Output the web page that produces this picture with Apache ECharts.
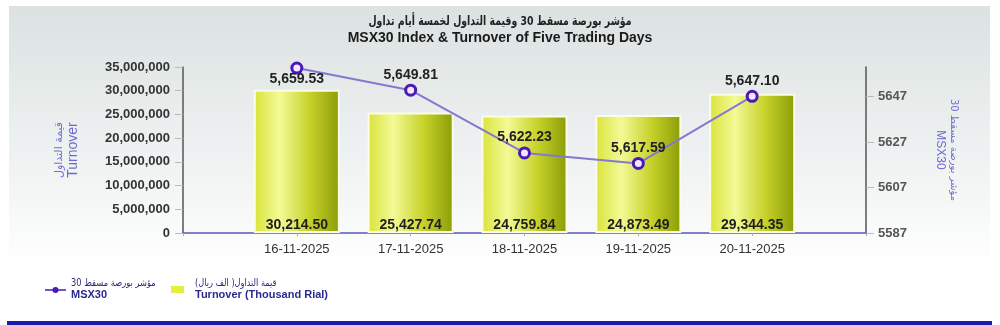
<!DOCTYPE html>
<html><head><meta charset="utf-8">
<script src="https://cdn.jsdelivr.net/npm/echarts@6/dist/echarts.min.js"></script>
<style>html,body{margin:0;padding:0;background:#fff}#c{width:1000px;height:325px}</style>
</head><body><div id="c"></div>
<script>
const dates = ['16-11-2025','17-11-2025','18-11-2025','19-11-2025','20-11-2025'];
const turnover = [30214500, 25427740, 24759840, 24873490, 29344350];
const msx30 = [5659.53, 5649.81, 5622.23, 5617.59, 5647.10];
const leftTicks = {min: 0, max: 35000000, interval: 5000000};
const rightTicks = {min: 5587, max: 5660, interval: 20};

const FONT = 'Liberation Sans, Arial, DejaVu Sans, sans-serif';
const AR = 'DejaVu Sans, sans-serif';
const cats = [''].concat(dates, ['']);
const barData = ['-'].concat(turnover, ['-']);
const lineData = ['-'].concat(msx30.map((v, i) => i === 0 ? {value: v, label: {position: 'bottom', distance: -2}} : v), ['-']);

const fmt2 = v => v.toLocaleString('en-US', {minimumFractionDigits: 2, maximumFractionDigits: 2});
const barGrad = new echarts.graphic.LinearGradient(0, 0, 1, 0, [
  {offset: 0, color: '#d9e33a'}, {offset: 0.3, color: '#f3fa96'}, {offset: 0.65, color: '#c7d22a'}, {offset: 1, color: '#8a9c08'}]);

const chart = echarts.init(document.getElementById('c'), null, {renderer: 'canvas'});
chart.setOption({
  animation: false,
  textStyle: {fontFamily: FONT},
  legend: {show: false},
  graphic: [
    {type: 'rect', z: -10, shape: {x: 9, y: 6, width: 981, height: 262},
     style: {fill: new echarts.graphic.LinearGradient(0, 0, 0, 1, [
       {offset: 0, color: '#dbe2e1'}, {offset: 0.55, color: '#eef1f1'}, {offset: 1, color: '#ffffff'}])}},
    {type: 'rect', z: -5, shape: {x: 7, y: 321, width: 985, height: 5}, style: {fill: '#1a1ab0'}},
    {type: 'text', x: 500, y: 22, scaleX: 0.72, style: {text: 'مؤشر بورصة مسقط 30 وقيمة التداول لخمسة أيام تداول', font: 'bold 13px ' + AR, fill: '#222', textAlign: 'center', textVerticalAlign: 'middle'}},
    {type: 'text', x: 500, y: 38, style: {text: 'MSX30 Index & Turnover of Five Trading Days', font: 'bold 14px ' + FONT, fill: '#1a1a1a', textAlign: 'center', textVerticalAlign: 'middle'}},
    // legend: MSX30
    {type: 'line', shape: {x1: 45, y1: 290, x2: 66, y2: 290}, style: {stroke: '#4a1ab8', lineWidth: 1.5}},
    {type: 'circle', shape: {cx: 55.5, cy: 290, r: 3}, style: {fill: '#4a1ab8'}},
    {type: 'text', x: 71, y: 283, scaleX: 0.83, style: {text: 'مؤشر بورصة مسقط 30', font: '10px ' + AR, fill: '#2a2a80', textAlign: 'left', textVerticalAlign: 'middle'}},
    {type: 'text', x: 71, y: 295, style: {text: 'MSX30', font: 'bold 11px ' + FONT, fill: '#2a2a90', textAlign: 'left', textVerticalAlign: 'middle'}},
    // legend: Turnover
    {type: 'rect', shape: {x: 171, y: 286, width: 13, height: 7}, style: {fill: '#e4ee3c'}},
    {type: 'text', x: 195, y: 283, scaleX: 0.82, style: {text: 'قيمة التداول( الف ريال)', font: '10px ' + AR, fill: '#2a2a80', textAlign: 'left', textVerticalAlign: 'middle'}},
    {type: 'text', x: 195, y: 295, style: {text: 'Turnover (Thousand Rial)', font: 'bold 11px ' + FONT, fill: '#2a2a90', textAlign: 'left', textVerticalAlign: 'middle'}}
  ],
  grid: {left: 183, right: 134, top: 67, bottom: 92, containLabel: false},
  xAxis: {
    type: 'category', data: cats, boundaryGap: false,
    axisLine: {lineStyle: {color: '#5a5ab8', width: 1.5}},
    axisTick: {show: true, length: 3, lineStyle: {color: '#aaa'}},
    axisLabel: {fontSize: 13, color: '#333', margin: 10, fontFamily: FONT},
    splitLine: {show: false}
  },
  yAxis: [
    {type: 'value', min: leftTicks.min, max: leftTicks.max, interval: leftTicks.interval,
     name: '{a|قيمة التداول}\n{b|Turnover}', nameLocation: 'middle', nameGap: 102, nameRotate: 90,
     nameTextStyle: {rich: {
       a: {color: '#7070d0', fontSize: 11, fontFamily: AR, lineHeight: 14},
       b: {color: '#6a6ad0', fontSize: 14, fontFamily: FONT, lineHeight: 15}}},
     axisLine: {show: true, lineStyle: {color: '#555', width: 1.5}},
     axisTick: {show: true, length: 8, lineStyle: {color: '#bbb'}},
     axisLabel: {fontSize: 13, fontWeight: 'bold', color: '#333', margin: 13, fontFamily: FONT,
       formatter: v => v.toLocaleString('en-US')},
     splitLine: {show: false}},
    {type: 'value', min: rightTicks.min, max: rightTicks.max, interval: rightTicks.interval, position: 'right',
     name: '{a|مؤشر بورصة مسقط 30}\n{b|MSX30}', nameLocation: 'middle', nameGap: 68, nameRotate: -90,
     nameTextStyle: {rich: {
       a: {color: '#7070d0', fontSize: 10, fontFamily: AR, lineHeight: 13},
       b: {color: '#6a6ad0', fontSize: 12, fontFamily: FONT, lineHeight: 13}}},
     axisLine: {show: true, lineStyle: {color: '#555', width: 1.5}},
     axisTick: {show: true, length: 8, lineStyle: {color: '#bbb'}},
     axisLabel: {fontSize: 13, fontWeight: 'bold', color: '#555', margin: 12, showMaxLabel: false, fontFamily: FONT,
       formatter: v => String(v)},
     splitLine: {show: false}}
  ],
  series: [
    {name: 'Turnover', type: 'bar', yAxisIndex: 0, data: barData, barWidth: 86,
     itemStyle: {color: barGrad, borderColor: '#fbfbe8', borderWidth: 2},
     label: {show: true, position: 'insideBottom', distance: 1, fontSize: 14, fontWeight: 'bold', color: '#1e1e1e',
       fontFamily: FONT, formatter: p => fmt2(p.value / 1000)}},
    {name: 'MSX30', type: 'line', yAxisIndex: 1, data: lineData, connectNulls: false,
     symbol: 'circle', symbolSize: 10,
     lineStyle: {color: '#8478d0', width: 2},
     itemStyle: {color: '#f0e8ff', borderColor: '#4a1ab8', borderWidth: 3},
     label: {show: true, position: 'top', distance: 2, fontSize: 14, fontWeight: 'bold', color: '#222', fontFamily: FONT,
       formatter: p => fmt2(typeof p.value === 'object' ? p.value.value : p.value)},
     z: 5}
  ]
});
</script></body></html>
